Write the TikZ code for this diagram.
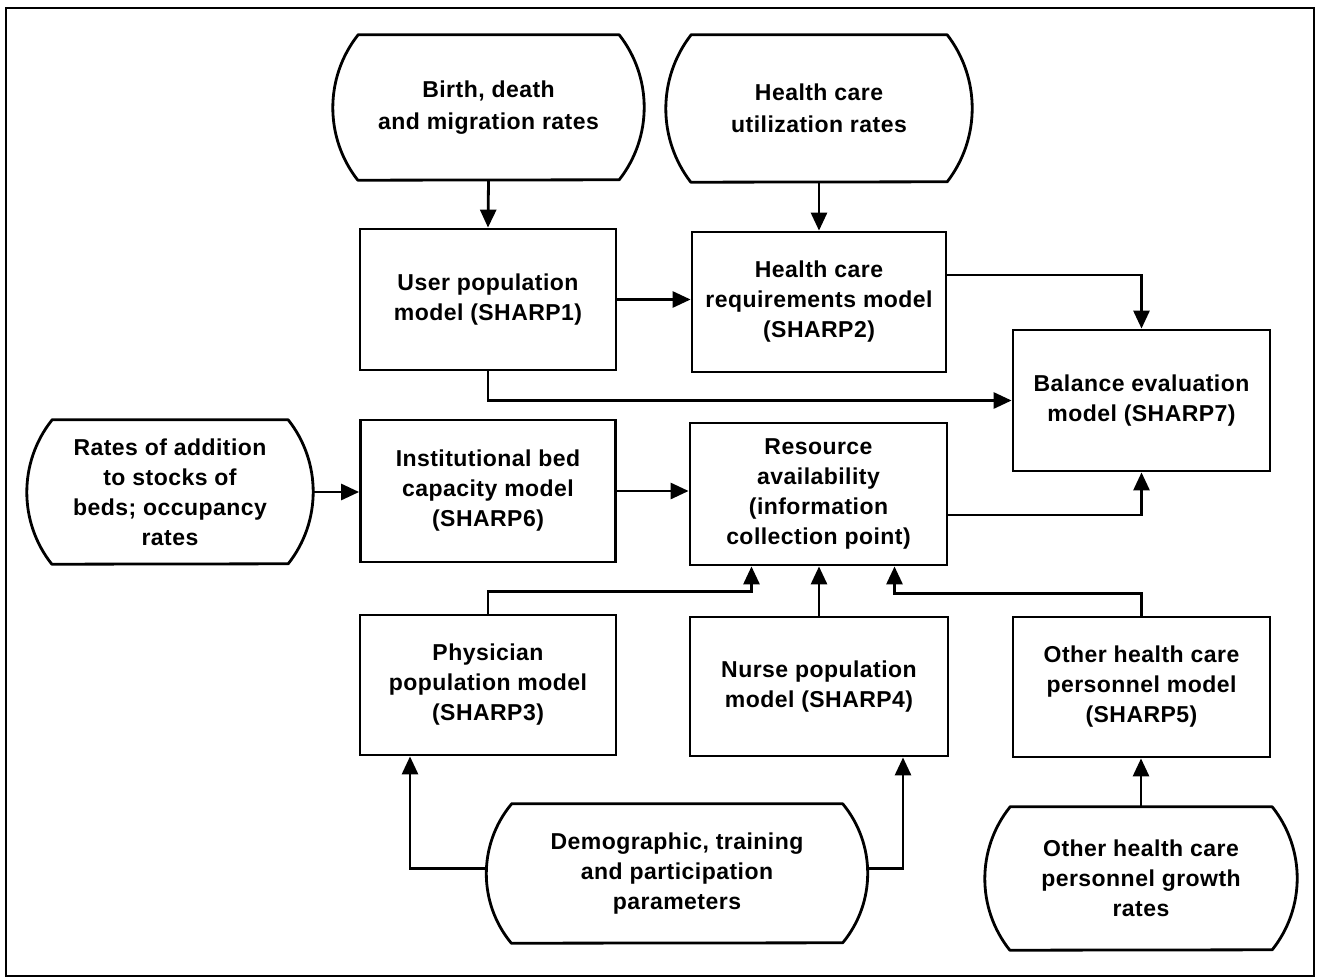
\documentclass[tikz,border=0pt]{standalone}
\usepackage{fontspec}
\setmainfont{Liberation Sans}[LetterSpace=2]
\usetikzlibrary{arrows.meta,calc}

\newcommand{\labelfont}{\fontsize{23}{30}\selectfont\bfseries}
\newcommand{\labelfontwide}{\fontsize{23}{32}\selectfont\bfseries}
\newcommand{\tmSag}{25}

\tikzset{
  modelbox/.style={draw, line width=2.8pt, align=center, font=\labelfont, inner sep=0pt},
  termtext/.style={align=center, font=\labelfont, inner sep=0pt},
  shapeline/.style={line width=2.8pt, line join=round},
  flow/.style={line width=2.8pt, -{Triangle[length=18pt,width=16pt]}},
  framebox/.style={line width=2.8pt},
}

% #1 name, #2 x, #3 y, #4 width, #5 height, #6 text, #7 font
\newcommand{\termshape}[7]{%
  \node[termtext, font=#7, minimum width=#4pt, minimum height=#5pt] (#1) at (#2,#3) {#6};
  \pgfmathsetmacro{\tmHalf}{#5/2}
  \pgfmathsetmacro{\tmRad}{(\tmHalf*\tmHalf+\tmSag*\tmSag)/(2*\tmSag)}
  \pgfmathsetmacro{\tmAng}{asin(\tmHalf/\tmRad)}
  \draw[shapeline] ([xshift=\tmSag pt]#1.north west) -- ([xshift=-\tmSag pt]#1.north east)
     arc[start angle=\tmAng, end angle=-\tmAng, radius=\tmRad]
     -- ([xshift=\tmSag pt]#1.south west)
     arc[start angle=180+\tmAng, end angle=180-\tmAng, radius=\tmRad] -- cycle;
}

\begin{document}
\begin{tikzpicture}[x=1pt,y=1pt]
\useasboundingbox (0,0) rectangle (1321,-979);
\fill[white] (0,0) rectangle (1321,-979);
\draw[framebox] (6,-8) rectangle (1314,-976);

% terminals
\termshape{birth}{488.5}{-107.5}{311}{145}{Birth, death\\and migration rates}{\labelfontwide}
\termshape{util}{819}{-108.5}{306}{147}{Health care\\utilization rates}{\labelfontwide}
\termshape{rates}{170}{-492}{286}{144}{Rates of addition\\to stocks of\\beds; occupancy\\rates}{\labelfont}
\termshape{demo}{677}{-873.5}{381}{139}{Demographic, training\\and participation\\parameters}{\labelfont}
\termshape{growth}{1141}{-878.5}{312}{143}{Other health care\\personnel growth\\rates}{\labelfont}

% model boxes
\node[modelbox, minimum width=256pt, minimum height=141pt] (user) at (488,-299.5) {User population\\model (SHARP1)};
\node[modelbox, minimum width=254pt, minimum height=140pt] (hcr) at (819,-302) {Health care\\requirements model\\(SHARP2)};
\node[modelbox, minimum width=257pt, minimum height=141pt] (bal) at (1141.5,-400.5) {Balance evaluation\\model (SHARP7)};
\node[modelbox, minimum width=255pt, minimum height=142pt] (inst) at (488,-491) {Institutional bed\\capacity model\\(SHARP6)};
\node[modelbox, minimum width=257pt, minimum height=142pt] (res) at (818.5,-494) {Resource\\availability\\(information\\collection point)};
\node[modelbox, minimum width=256pt, minimum height=140pt] (phys) at (488,-685) {Physician\\population model\\(SHARP3)};
\node[modelbox, minimum width=258pt, minimum height=139pt] (nurse) at (819,-686.5) {Nurse population\\model (SHARP4)};
\node[modelbox, minimum width=257pt, minimum height=140pt] (other) at (1141.5,-687) {Other health care\\personnel model\\(SHARP5)};

% connectors
\draw[flow] (birth.south) -- (user.north);
\draw[flow] (util.south) -- (hcr.north);
\draw[flow] (user.east) -- (user.east -| hcr.west);
\draw[flow] ([yshift=27pt]hcr.east) -| (bal.north);
\draw[flow] (user.south) |- (bal.west);
\draw[flow] (rates.east) -- (rates.east -| inst.west);
\draw[flow] (inst.east) -- (inst.east -| res.west);
\draw[flow] ([yshift=-21pt]res.east) -| (bal.south);
\draw[flow] (phys.north) -- ++(0,22) -| ([xshift=-67pt]res.south);
\draw[flow] (nurse.north) -- (nurse.north |- res.south);
\draw[flow] (other.north) -- ++(0,22) -| ([xshift=76pt]res.south);
\draw[flow] ([yshift=5pt]demo.west) -| ([xshift=-78pt]phys.south);
\draw[flow] ([yshift=5pt]demo.east) -| ([xshift=84pt]nurse.south);
\draw[flow] (growth.north) -- (growth.north |- other.south);
\end{tikzpicture}
\end{document}
